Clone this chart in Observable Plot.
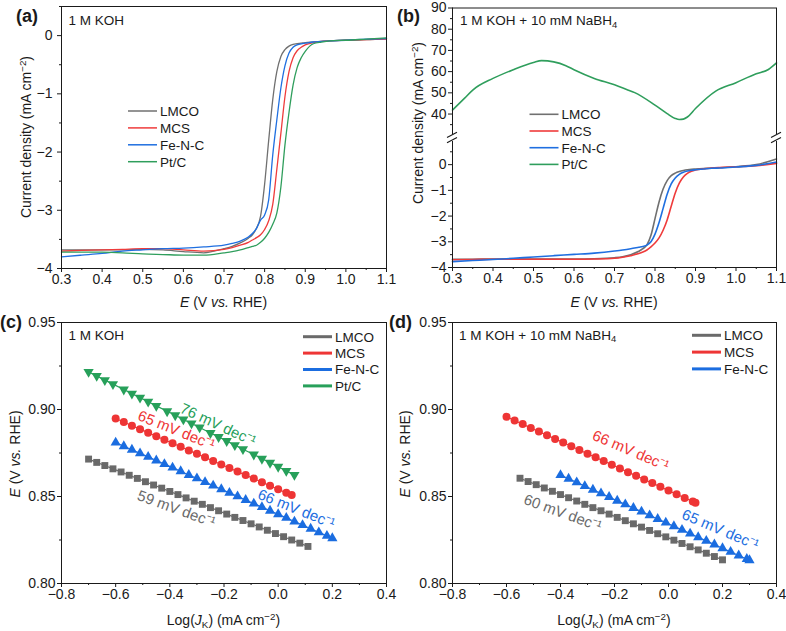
<!DOCTYPE html>
<html><head><meta charset="utf-8">
<script src="https://cdn.jsdelivr.net/npm/d3@7"></script>
<script src="https://cdn.jsdelivr.net/npm/@observablehq/plot@0.6"></script>
<style>
body{margin:0;background:#fff;}
#fig{position:relative;width:786px;height:631px;overflow:hidden;background:#fff;}
.pp{position:absolute;}
</style>
</head><body><div id="fig"></div>
<script>
// ---------------- DATA ----------------
const seriesNames = ["LMCO", "MCS", "Fe-N-C", "Pt/C"];
const lineColors = ["#707070", "#ef3b3b", "#1f6fe0", "#2f9e5c"];
const markColors = ["#6a6a6a", "#ee3535", "#1b6de0", "#27a05a"];

// (a) LSV in 1 M KOH
const eGrid = [0.30,0.35,0.40,0.45,0.50,0.55,0.60,0.65,0.70,0.72,0.74,0.76,0.77,0.78,0.79,0.80,0.81,0.82,0.83,0.84,0.85,0.86,0.87,0.88,0.89,0.90,0.92,0.94,0.96,1.00,1.05,1.10];
const jA_LMCO = [-3.68,-3.68,-3.68,-3.68,-3.67,-3.68,-3.71,-3.73,-3.66,-3.62,-3.56,-3.48,-3.42,-3.31,-3.10,-2.55,-1.80,-1.10,-0.62,-0.36,-0.24,-0.18,-0.15,-0.14,-0.13,-0.12,-0.11,-0.10,-0.09,-0.08,-0.07,-0.05];
const jA_MCS  = [-3.70,-3.69,-3.68,-3.67,-3.66,-3.66,-3.68,-3.70,-3.67,-3.64,-3.60,-3.55,-3.51,-3.47,-3.42,-3.33,-3.18,-2.90,-2.30,-1.68,-1.05,-0.62,-0.38,-0.26,-0.20,-0.16,-0.12,-0.10,-0.09,-0.08,-0.07,-0.06];
const jA_FeNC = [-3.80,-3.77,-3.74,-3.70,-3.68,-3.66,-3.65,-3.63,-3.60,-3.57,-3.53,-3.46,-3.40,-3.31,-3.17,-3.08,-2.82,-2.05,-1.45,-0.90,-0.52,-0.30,-0.20,-0.16,-0.14,-0.13,-0.11,-0.10,-0.09,-0.08,-0.06,-0.05];
const jA_PtC  = [-3.72,-3.72,-3.72,-3.73,-3.75,-3.76,-3.77,-3.77,-3.73,-3.71,-3.68,-3.64,-3.62,-3.60,-3.55,-3.48,-3.38,-3.24,-3.05,-2.60,-1.88,-1.32,-0.85,-0.55,-0.38,-0.27,-0.14,-0.11,-0.09,-0.08,-0.06,-0.04];

// (b) LSV in 1 M KOH + 10 mM NaBH4
const jB_LMCO = [-3.68,-3.68,-3.67,-3.67,-3.67,-3.67,-3.67,-3.66,-3.62,-3.58,-3.50,-3.37,-3.27,-3.12,-2.75,-2.10,-1.45,-0.95,-0.62,-0.43,-0.33,-0.27,-0.23,-0.20,-0.18,-0.17,-0.15,-0.13,-0.12,-0.08,0.00,0.22];
const jB_MCS  = [-3.70,-3.69,-3.68,-3.68,-3.68,-3.68,-3.68,-3.67,-3.64,-3.60,-3.54,-3.46,-3.40,-3.32,-3.20,-3.05,-2.85,-2.55,-2.15,-1.62,-1.10,-0.72,-0.48,-0.34,-0.26,-0.21,-0.16,-0.13,-0.11,-0.08,-0.04,0.05];
const jB_FeNC = [-3.77,-3.73,-3.69,-3.64,-3.59,-3.54,-3.49,-3.44,-3.36,-3.32,-3.27,-3.21,-3.18,-3.13,-3.00,-2.70,-2.25,-1.70,-1.15,-0.75,-0.52,-0.38,-0.30,-0.25,-0.22,-0.20,-0.17,-0.14,-0.13,-0.09,-0.03,0.10];
const eB_PtC = [0.30,0.33,0.35,0.40,0.45,0.50,0.52,0.55,0.58,0.60,0.65,0.70,0.73,0.75,0.80,0.83,0.85,0.86,0.87,0.88,0.90,0.95,1.00,1.05,1.08,1.10];
const jB_PtC = [41.9,47.5,51.3,56.8,60.9,64.3,65.2,64.6,62.8,60.9,56.8,53.8,51.6,50.1,44.2,40.2,37.9,37.4,37.6,38.6,42.6,50.8,54.8,59.0,61.0,64.1];

// (c) Tafel, 1 M KOH
const xC_LMCO = [-0.70,-0.67,-0.64,-0.61,-0.58,-0.55,-0.52,-0.49,-0.46,-0.43,-0.40,-0.37,-0.34,-0.31,-0.28,-0.25,-0.22,-0.19,-0.16,-0.13,-0.10,-0.07,-0.04,-0.01,0.02,0.05,0.08,0.11];
const yC_LMCO = [0.8715,0.8696,0.8678,0.8659,0.8641,0.8622,0.8604,0.8585,0.8566,0.8548,0.8529,0.8511,0.8492,0.8473,0.8455,0.8436,0.8418,0.8399,0.8380,0.8362,0.8343,0.8325,0.8306,0.8287,0.8269,0.8250,0.8232,0.8213];
const xC_MCS = [-0.60,-0.57,-0.54,-0.51,-0.48,-0.45,-0.42,-0.39,-0.36,-0.33,-0.30,-0.27,-0.24,-0.21,-0.18,-0.15,-0.12,-0.09,-0.06,-0.03,0.00,0.03,0.05];
const yC_MCS = [0.8948,0.8928,0.8907,0.8887,0.8867,0.8846,0.8826,0.8806,0.8786,0.8765,0.8745,0.8725,0.8704,0.8684,0.8664,0.8643,0.8623,0.8603,0.8582,0.8562,0.8542,0.8521,0.8508];
const xC_FeNC = [-0.60,-0.57,-0.54,-0.51,-0.48,-0.45,-0.42,-0.39,-0.36,-0.33,-0.30,-0.27,-0.24,-0.21,-0.18,-0.15,-0.12,-0.09,-0.06,-0.03,0.00,0.03,0.06,0.09,0.12,0.15,0.18,0.20];
const yC_FeNC = [0.8810,0.8789,0.8769,0.8748,0.8728,0.8707,0.8686,0.8666,0.8645,0.8624,0.8604,0.8583,0.8563,0.8542,0.8521,0.8501,0.8480,0.8459,0.8439,0.8418,0.8398,0.8377,0.8356,0.8336,0.8315,0.8294,0.8274,0.8260];
const xC_PtC = [-0.70,-0.67,-0.64,-0.61,-0.57,-0.54,-0.51,-0.48,-0.45,-0.41,-0.38,-0.35,-0.32,-0.29,-0.25,-0.22,-0.19,-0.16,-0.13,-0.09,-0.06,-0.03,0.00,0.03,0.06];
const yC_PtC = [0.9216,0.9193,0.9169,0.9146,0.9115,0.9091,0.9068,0.9045,0.9021,0.8990,0.8967,0.8943,0.8920,0.8897,0.8865,0.8842,0.8819,0.8795,0.8772,0.8741,0.8717,0.8694,0.8671,0.8647,0.8624];

// (d) Tafel, 1 M KOH + 10 mM NaBH4
const xD_LMCO = [-0.55,-0.52,-0.49,-0.46,-0.43,-0.40,-0.37,-0.34,-0.31,-0.28,-0.25,-0.22,-0.19,-0.16,-0.13,-0.10,-0.07,-0.04,-0.01,0.02,0.05,0.08,0.11,0.14,0.17,0.20];
const yD_LMCO = [0.8605,0.8586,0.8568,0.8549,0.8530,0.8511,0.8493,0.8474,0.8455,0.8436,0.8418,0.8399,0.8380,0.8361,0.8343,0.8324,0.8305,0.8286,0.8268,0.8249,0.8230,0.8211,0.8193,0.8174,0.8155,0.8136];
const xD_MCS = [-0.60,-0.57,-0.54,-0.51,-0.48,-0.45,-0.42,-0.39,-0.36,-0.33,-0.30,-0.27,-0.24,-0.21,-0.18,-0.15,-0.12,-0.09,-0.06,-0.03,0.00,0.03,0.06,0.09,0.10];
const yD_MCS = [0.8958,0.8937,0.8916,0.8894,0.8873,0.8852,0.8831,0.8810,0.8789,0.8767,0.8746,0.8725,0.8704,0.8683,0.8661,0.8640,0.8619,0.8598,0.8577,0.8556,0.8534,0.8513,0.8492,0.8471,0.8464];
const xD_FeNC = [-0.40,-0.37,-0.34,-0.31,-0.28,-0.25,-0.22,-0.19,-0.16,-0.13,-0.10,-0.07,-0.04,-0.01,0.02,0.05,0.08,0.11,0.14,0.17,0.20,0.23,0.26,0.29,0.30];
const yD_FeNC = [0.8623,0.8602,0.8581,0.8560,0.8539,0.8518,0.8497,0.8476,0.8455,0.8434,0.8413,0.8392,0.8371,0.8350,0.8329,0.8308,0.8287,0.8266,0.8245,0.8224,0.8203,0.8182,0.8161,0.8141,0.8134];

// Tafel slope annotations (position in data units, text)
const annC = [
  {x: -0.222, y: 0.8912, t: "76 mV dec⁻¹", s: 3, rot: 25},
  {x: -0.376, y: 0.8880, t: "65 mV dec⁻¹", s: 1, rot: 22},
  {x: 0.067,  y: 0.8428, t: "66 mV dec⁻¹", s: 2, rot: 22},
  {x: -0.376, y: 0.8428, t: "59 mV dec⁻¹", s: 0, rot: 20}
];
const annD = [
  {x: -0.140, y: 0.8763, t: "66 mV dec⁻¹", s: 1, rot: 23},
  {x: -0.392, y: 0.8405, t: "60 mV dec⁻¹", s: 0, rot: 20},
  {x: 0.192,  y: 0.8309, t: "65 mV dec⁻¹", s: 2, rot: 23}
];

// ticks
const lsvXMajor = [0.3,0.4,0.5,0.6,0.7,0.8,0.9,1.0,1.1];
const lsvXMinor = [0.35,0.45,0.55,0.65,0.75,0.85,0.95,1.05];
const lsvYMajor = [-4,-3,-2,-1,0];
const lsvYMinor = [-3.5,-2.5,-1.5,-0.5,0.5];
const ptcYMajor = [40,50,60,70,80,90];
const ptcYMinor = [35,45,55,65,75,85];
const tafXMajor = [-0.8,-0.6,-0.4,-0.2,0.0,0.2,0.4];
const tafXMinor = [-0.7,-0.5,-0.3,-0.1,0.1,0.3];
const tafYMajor = [0.80,0.85,0.90,0.95];
const tafYMinor = [0.825,0.875,0.925];

// ---------------- HELPERS ----------------
const FONT = "'Liberation Sans', Arial, Helvetica, sans-serif";
const INK = "#1a1a1a";
const fig = d3.select("#fig");
const zip = (xs, ys) => xs.map((x, i) => ({x, y: ys[i]}));

function place(node, left, top) {
  const d = fig.append("div").attr("class", "pp").style("left", left + "px").style("top", top + "px");
  d.node().appendChild(node);
}
function baseStyle() {
  return {fontFamily: FONT, fontSize: "14px", color: INK, background: "transparent", overflow: "visible"};
}
function xAxes(major, minor, fmt) {
  return [
    Plot.axisX(major, {tickSize: 4, tickPadding: 1.5, tickFormat: fmt, label: null, stroke: INK}),
    Plot.axisX(minor, {tickSize: 2, tickFormat: () => "", label: null, stroke: INK})
  ];
}
function yAxes(major, minor, fmt, pad) {
  return [
    Plot.axisY(major, {tickSize: 4, tickPadding: pad, tickFormat: fmt, label: null, stroke: INK}),
    Plot.axisY(minor, {tickSize: 2, tickFormat: () => "", label: null, stroke: INK})
  ];
}
const lsvLine = (ys, i) => Plot.line(zip(eGrid, ys), {x: "x", y: "y", stroke: lineColors[i], strokeWidth: 1.3, curve: "monotone-x"});

// ---------------- PANEL (a) ----------------
place(Plot.plot({
  width: 393, height: 315, marginLeft: 61, marginRight: 7, marginTop: 6, marginBottom: 47,
  x: {domain: [0.3, 1.1]}, y: {domain: [-4, 0.5]},
  style: baseStyle(),
  marks: [
    ...xAxes(lsvXMajor, lsvXMinor, d3.format(".1f")),
    ...yAxes(lsvYMajor, lsvYMinor, d3.format("d"), 5),
    lsvLine(jA_LMCO, 0), lsvLine(jA_MCS, 1), lsvLine(jA_FeNC, 2), lsvLine(jA_PtC, 3),
    Plot.frame({stroke: INK})
  ]
}), 0, 0);

// ---------------- PANEL (b) upper ----------------
place(Plot.plot({
  width: 396, height: 134, marginLeft: 62, marginRight: 10, marginTop: 7.5, marginBottom: 0,
  x: {domain: [0.3, 1.1], axis: null}, y: {domain: [30.35, 90]},
  style: baseStyle(),
  marks: [
    ...yAxes(ptcYMajor, ptcYMinor, d3.format("d"), 2),
    Plot.line(zip(eB_PtC, jB_PtC), {x: "x", y: "y", stroke: lineColors[3], strokeWidth: 1.6, curve: "monotone-x"}),
    Plot.ruleX([0.3, 1.1], {stroke: INK}),
    Plot.ruleY([90], {stroke: INK})
  ]
}), 390, 0);

// ---------------- PANEL (b) lower ----------------
const lsvLineB = (ys, i) => Plot.line(zip(eGrid, ys), {x: "x", y: "y", stroke: lineColors[i], strokeWidth: 1.6, curve: "monotone-x"});
function breakMarks(yTop, xs) {
  return (index, scales) => {
    const g = d3.create("svg:g").attr("stroke", INK).attr("stroke-width", 1.2).attr("fill", "none");
    const c = scales.y(yTop) - 3.5;
    for (const xv of xs) {
      const px = scales.x(xv);
      for (const dy of [-2.6, 2.6]) {
        g.append("line").attr("x1", px - 5).attr("y1", c + dy + 2.6).attr("x2", px + 5).attr("y2", c + dy - 2.6);
      }
    }
    return g.node();
  };
}
place(Plot.plot({
  width: 396, height: 183, marginLeft: 62, marginRight: 10, marginTop: 10, marginBottom: 47,
  x: {domain: [0.3, 1.1]}, y: {domain: [-4, 0.9]},
  style: baseStyle(),
  marks: [
    ...xAxes(lsvXMajor, lsvXMinor, d3.format(".1f")),
    ...yAxes(lsvYMajor, lsvYMinor, d3.format("d"), 2),
    lsvLineB(jB_LMCO, 0), lsvLineB(jB_MCS, 1), lsvLineB(jB_FeNC, 2),
    Plot.ruleX([0.3, 1.1], {stroke: INK}),
    Plot.ruleY([-4], {stroke: INK}),
    breakMarks(0.9, [0.3, 1.1])
  ]
}), 390, 131);

// ---------------- PANELS (c) (d) ----------------
const symbolOf = ["square", "circle", "triangle", "triangle"];
const rotOf = [0, 0, 0, 180];
const rOf = [3.9, 4.0, 3.8, 3.8];
function tafel(xs, ys, i) {
  const rows = zip(xs, ys);
  return [
    Plot.dot(rows, {x: "x", y: "y", symbol: symbolOf[i], rotate: rotOf[i], r: rOf[i], fill: markColors[i], stroke: "none"}),
    Plot.line(rows, {x: "x", y: "y", stroke: markColors[i], strokeWidth: 1.2})
  ];
}
function annotations(list) {
  return list.map(a => Plot.text([a], {x: "x", y: "y", text: "t", rotate: a.rot, fill: markColors[a.s], fontSize: 15, textAnchor: "middle"}));
}
place(Plot.plot({
  width: 393, height: 331, marginLeft: 61, marginRight: 7, marginTop: 22, marginBottom: 48,
  x: {domain: [-0.8, 0.4]}, y: {domain: [0.80, 0.95]},
  style: baseStyle(),
  marks: [
    ...xAxes(tafXMajor, tafXMinor, d3.format(".1f")),
    ...yAxes(tafYMajor, tafYMinor, d3.format(".2f"), 2),
    ...tafel(xC_LMCO, yC_LMCO, 0), ...tafel(xC_MCS, yC_MCS, 1),
    ...tafel(xC_FeNC, yC_FeNC, 2), ...tafel(xC_PtC, yC_PtC, 3),
    ...annotations(annC),
    Plot.frame({stroke: INK})
  ]
}), 0, 300);

place(Plot.plot({
  width: 396, height: 331, marginLeft: 62, marginRight: 10, marginTop: 22, marginBottom: 48,
  x: {domain: [-0.8, 0.4]}, y: {domain: [0.80, 0.95]},
  style: baseStyle(),
  marks: [
    ...xAxes(tafXMajor, tafXMinor, d3.format(".1f")),
    ...yAxes(tafYMajor, tafYMinor, d3.format(".2f"), 2),
    ...tafel(xD_LMCO, yD_LMCO, 0), ...tafel(xD_MCS, yD_MCS, 1), ...tafel(xD_FeNC, yD_FeNC, 2),
    ...annotations(annD),
    Plot.frame({stroke: INK})
  ]
}), 390, 300);

// ---------------- TEXT OVERLAY ----------------
const ov = fig.append("svg").attr("width", 786).attr("height", 631)
  .style("position", "absolute").style("left", 0).style("top", 0).style("pointer-events", "none")
  .attr("font-family", FONT);
function txt({x, y, parts, size = 13.5, anchor = "start", rotate = 0, weight = "normal", fill = INK}) {
  const t = ov.append("text").attr("transform", `translate(${x},${y}) rotate(${rotate})`)
    .attr("text-anchor", anchor).attr("font-size", size).attr("font-weight", weight).attr("fill", fill);
  let shift = 0;
  for (const [s, st] of parts) {
    const ts = t.append("tspan").text(s);
    const target = st === "sup" ? -size * 0.38 : st === "sub" ? size * 0.22 : 0;
    if (target !== shift) { ts.attr("dy", target - shift); shift = target; }
    if (st === "sup" || st === "sub") ts.attr("font-size", size * 0.7);
    if (st === "i") ts.attr("font-style", "italic");
  }
}
const labE = [["E", "i"], [" (V ", ""], ["vs.", "i"], [" RHE)", ""]];
const labJ = [["Current density (mA cm", ""], ["−2", "sup"], [")", ""]];
const labLog = [["Log(", ""], ["J", "i"], ["K", "sub"], [") (mA cm", ""], ["−2", "sup"], [")", ""]];
const condA = [["1 M KOH", ""]];
const condB = [["1 M KOH + 10 mM NaBH", ""], ["4", "sub"]];

// panel letters
txt({x: 16, y: 21.5, parts: [["(a)", ""]], size: 18, weight: "bold"});
txt({x: 397, y: 21.5, parts: [["(b)", ""]], size: 18, weight: "bold"});
txt({x: 0, y: 327.5, parts: [["(c)", ""]], size: 18, weight: "bold"});
txt({x: 389, y: 327.5, parts: [["(d)", ""]], size: 18, weight: "bold"});
// conditions
txt({x: 68.5, y: 25, parts: condA});
txt({x: 460, y: 25, parts: condB});
txt({x: 68.5, y: 339.5, parts: condA});
txt({x: 459, y: 339.5, parts: condB});
// axis titles
txt({x: 223.5, y: 307, parts: labE, size: 14, anchor: "middle"});
txt({x: 614, y: 307, parts: labE, size: 14, anchor: "middle"});
txt({x: 223.5, y: 625, parts: labLog, size: 14, anchor: "middle"});
txt({x: 614, y: 625, parts: labLog, size: 14, anchor: "middle"});
txt({x: 31, y: 137, parts: labJ, size: 14, anchor: "middle", rotate: -90});
txt({x: 423, y: 123, parts: labJ, size: 14, anchor: "middle", rotate: -90});
txt({x: 20, y: 454, parts: labE, size: 14, anchor: "middle", rotate: -90});
txt({x: 410, y: 454, parts: labE, size: 14, anchor: "middle", rotate: -90});

// legends
function legend(x0, y0, dy, n, width, colors) {
  for (let i = 0; i < n; i++) {
    const y = y0 + i * dy;
    ov.append("line").attr("x1", x0).attr("x2", x0 + 29).attr("y1", y).attr("y2", y)
      .attr("stroke", colors[i]).attr("stroke-width", width);
    txt({x: x0 + 32, y: y + 4.8, parts: [[seriesNames[i], ""]]});
  }
}
legend(128, 111, 16.9, 4, 1.5, lineColors);
legend(529.5, 114.3, 16.7, 4, 1.6, lineColors);
legend(303, 336.7, 16.4, 4, 3, markColors);
legend(692, 335.3, 16.8, 3, 3, markColors);
</script>
</body></html>
